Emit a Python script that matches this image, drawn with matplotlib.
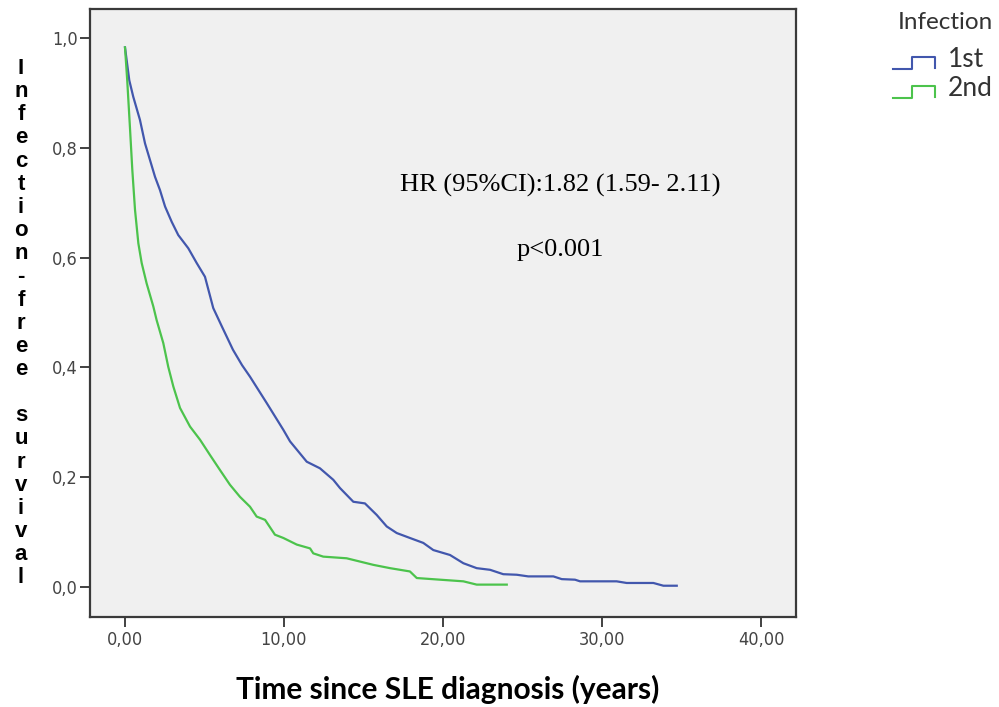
import matplotlib
matplotlib.use('Agg')
import matplotlib.pyplot as plt
from matplotlib.lines import Line2D
from matplotlib.legend_handler import HandlerBase
from matplotlib import font_manager
from matplotlib.font_manager import FontProperties

# Kaplan-Meier curves (years, survival)
time_1st = [0.0, 0.27, 0.52, 0.94, 1.26, 1.57, 1.89, 2.20, 2.52, 2.94, 3.35, 3.98,
            4.51, 5.03, 5.55, 6.10, 6.79, 7.36, 7.86, 8.91, 9.96, 10.38, 11.43,
            12.26, 13.10, 13.52, 14.36, 15.09, 15.83, 16.46, 17.09, 17.92, 18.76,
            19.39, 20.44, 21.28, 22.12, 22.96, 23.79, 24.64, 25.36, 26.94, 27.47,
            28.30, 28.62, 30.92, 31.55, 33.23, 33.86, 34.70]
surv_1st = [0.983, 0.923, 0.893, 0.851, 0.808, 0.778, 0.747, 0.723, 0.693, 0.665,
            0.641, 0.617, 0.590, 0.565, 0.508, 0.474, 0.432, 0.404, 0.383, 0.335,
            0.286, 0.265, 0.228, 0.216, 0.195, 0.180, 0.155, 0.152, 0.131, 0.110,
            0.098, 0.089, 0.080, 0.067, 0.058, 0.043, 0.034, 0.031, 0.023, 0.022,
            0.019, 0.019, 0.014, 0.013, 0.010, 0.010, 0.007, 0.007, 0.002, 0.002]

time_2nd = [0.0, 0.14, 0.31, 0.46, 0.63, 0.84, 1.05, 1.36, 1.78, 1.99, 2.41, 2.72,
            3.04, 3.46, 4.09, 4.72, 5.35, 5.97, 6.60, 7.23, 7.86, 8.28, 8.81, 9.43,
            9.96, 10.80, 11.64, 11.84, 12.47, 13.94, 14.78, 15.62, 16.67, 17.92,
            18.35, 19.81, 21.28, 22.12, 24.01]
surv_2nd = [0.983, 0.923, 0.838, 0.760, 0.687, 0.626, 0.590, 0.553, 0.511, 0.486,
            0.444, 0.401, 0.365, 0.326, 0.292, 0.268, 0.240, 0.213, 0.186, 0.164,
            0.146, 0.128, 0.122, 0.095, 0.089, 0.077, 0.070, 0.061, 0.055, 0.052,
            0.046, 0.040, 0.034, 0.028, 0.016, 0.013, 0.010, 0.004, 0.004]

x_ticks = [0, 10, 20, 30, 40]
y_ticks = [0.0, 0.2, 0.4, 0.6, 0.8, 1.0]
groups = ['1st', '2nd']
legend_title = 'Infection'
ylabel = 'Infection-free survival'
xlabel = 'Time since SLE diagnosis (years)'
hr_text = 'HR (95%CI):1.82 (1.59- 2.11)'
p_text = 'p<0.001'

blue = '#4257ad'
green = '#4cc34c'


def pick_tick_font():
    # SPSS uses a narrow sans for tick labels, try to find one
    fonts = font_manager.fontManager.ttflist
    for f in fonts:
        if f.name == 'Liberation Sans Narrow' and f.weight in (400, 'normal') and f.style == 'normal':
            return FontProperties(fname=f.fname, size=15)
    cond = [f for f in fonts if f.stretch in ('condensed', 'semi-condensed')
            and f.weight in (400, 'normal') and f.style == 'normal']
    cond.sort(key=lambda f: f.name != 'DejaVu Sans')
    if cond:
        return FontProperties(fname=cond[0].fname, size=13)
    return FontProperties(family='Liberation Sans', size=12)


tick_fp = pick_tick_font()


class StepHandler(HandlerBase):
    # little step icon like the SPSS legend
    def create_artists(self, legend, orig_handle, xdescent, ydescent,
                       width, height, fontsize, trans):
        xs = [0, 0.45, 0.45, 1, 1]
        ys = [-0.1, -0.1, 0.55, 0.55, -0.05]
        line = Line2D([x * width - xdescent for x in xs],
                      [y * height - ydescent for y in ys],
                      color=orig_handle.get_color(), lw=1.5, transform=trans)
        return [line]


fig = plt.figure(figsize=(9.99, 7.07), dpi=100)
ax = fig.add_axes([0.0901, 0.1273, 0.7067, 0.86])
ax.set_facecolor('#f0f0f0')

l1, = ax.plot(time_1st, surv_1st, color=blue, lw=1.6, label=groups[0])
l2, = ax.plot(time_2nd, surv_2nd, color=green, lw=1.6, label=groups[1])

ax.set_xlim(-2.2, 42.2)
ax.set_ylim(-0.055, 1.053)
ax.set_xticks(x_ticks)
ax.set_xticklabels([f'{v:.2f}'.replace('.', ',') for v in x_ticks])
ax.set_yticks(y_ticks)
ax.set_yticklabels([f'{v:.1f}'.replace('.', ',') for v in y_ticks])
for lab in ax.get_xticklabels() + ax.get_yticklabels():
    lab.set_fontproperties(tick_fp)
ax.tick_params(direction='out', length=7, width=1.3, color='#333333',
               labelcolor='#444444')
ax.tick_params(axis='y', pad=2)
ax.tick_params(axis='x', pad=3)
for s in ax.spines.values():
    s.set_color('#3a3a3a')
    s.set_linewidth(1.6)

ax.text(27.4, 0.7195, hr_text, ha='center', va='baseline',
        family='Liberation Serif', fontsize=19, color='black')
ax.text(27.4, 0.603, p_text, ha='center', va='baseline',
        family='Liberation Serif', fontsize=19, color='black')

# vertical stacked y label
for i, ch in enumerate(ylabel):
    fig.text(21 / 999, 1 - (74 + i * 23.15) / 707, ch, ha='center', va='baseline',
             family='Liberation Sans', fontweight='bold', fontsize=16, color='black')

fig.text(448 / 999, 1 - 699 / 707, xlabel, ha='center', va='baseline',
         family='Lato', fontweight='bold', fontsize=21.5, color='black')

# legend: title as plain text, entries with step icons
fig.text(945.5 / 999, 1 - 29 / 707, legend_title, ha='center', va='baseline',
         family='Lato', fontsize=17.5, color='#333333')
leg = fig.legend(handles=[l1, l2], labels=groups,
                 loc='center left', bbox_to_anchor=(893 / 999, 1 - 74 / 707),
                 frameon=False, borderpad=0, borderaxespad=0,
                 handlelength=1.59, handletextpad=0.49, labelspacing=0.15,
                 handler_map={Line2D: StepHandler()},
                 prop={'family': 'Lato', 'size': 19})
for t in leg.get_texts():
    t.set_color('#333333')

fig.savefig('out.png', dpi=100)
